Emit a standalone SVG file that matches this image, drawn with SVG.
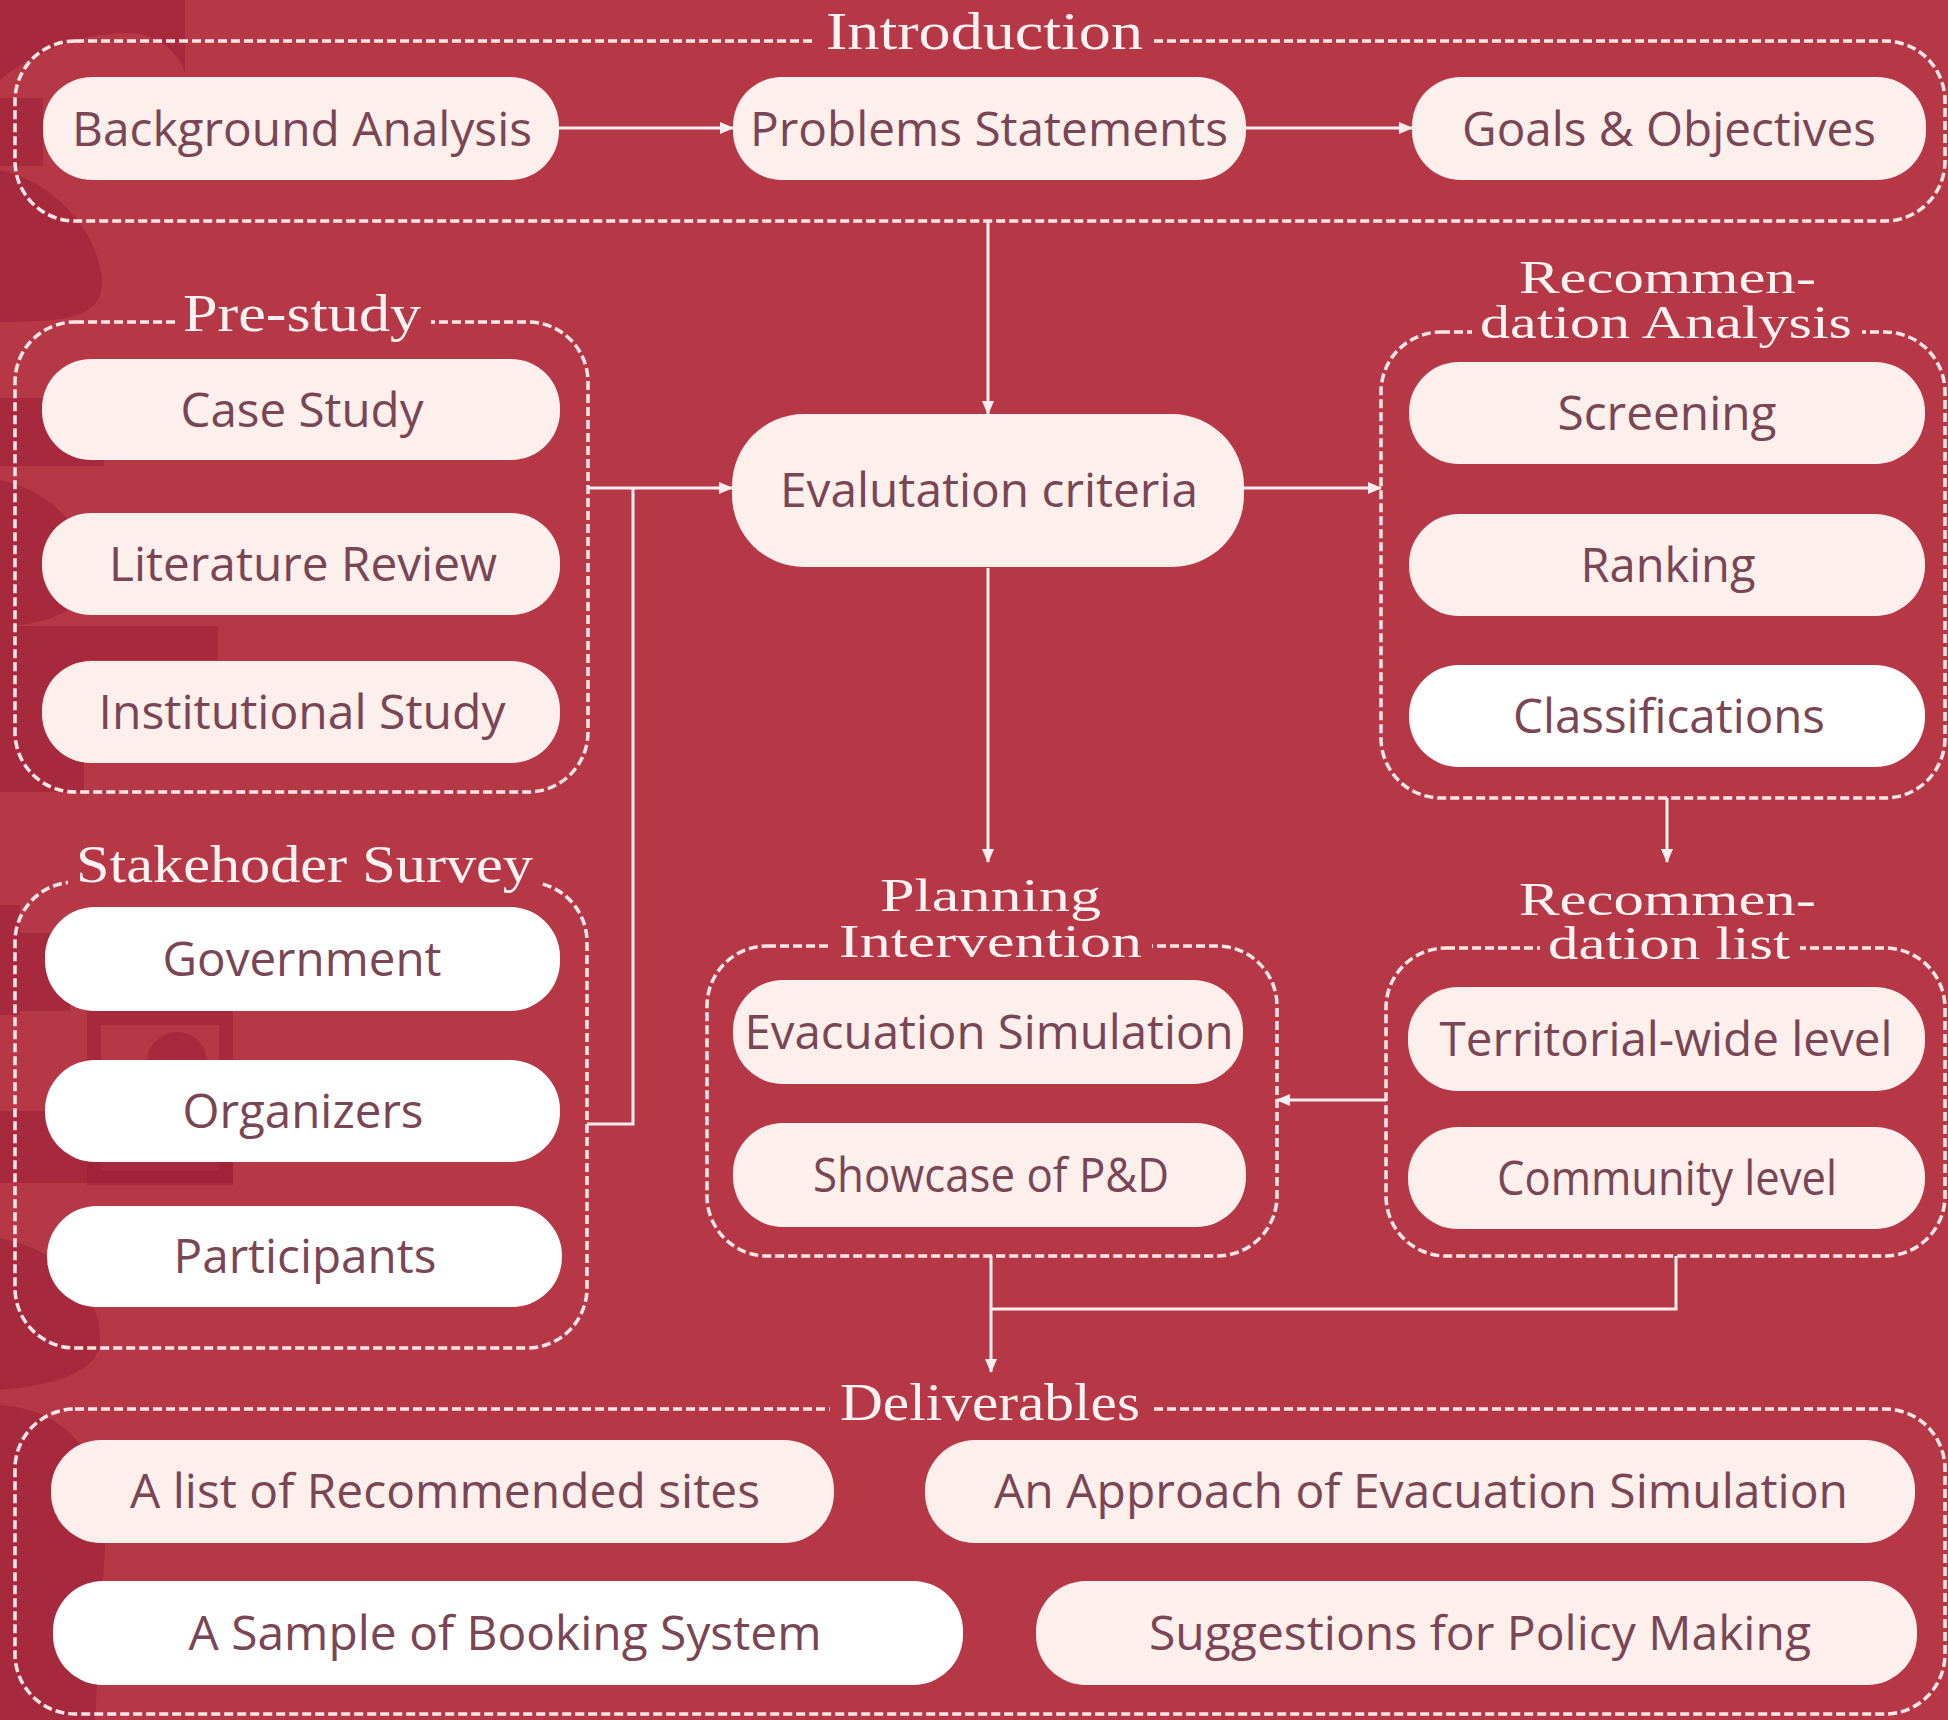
<svg xmlns="http://www.w3.org/2000/svg" width="1948" height="1720" viewBox="0 0 1948 1720">
<style>
.bg{fill:#b63847}
.deco{fill:#9d1f39;opacity:0.6}
.frame{fill:none;stroke:#fbe8e6;stroke-width:3.5;stroke-dasharray:9 4}
.pill{fill:#fcefec}
.pillw{fill:#ffffff}
.nt{font-family:"Open Sans","DejaVu Sans",sans-serif;font-size:47px;fill:#7a4655;text-anchor:middle}
.lb{font-family:"Liberation Serif","Times New Roman",serif;font-size:52px;fill:#fdf3f0}
.lb2{font-family:"Liberation Serif","Times New Roman",serif;font-size:47px;fill:#fdf3f0}
.cn{fill:none;stroke:#fbeeee;stroke-width:3}
</style>
<defs>
<marker id="ah" markerUnits="userSpaceOnUse" markerWidth="14" markerHeight="12" refX="13" refY="6" orient="auto">
<path d="M0,0 L14,6 L0,12 Z" fill="#fbeeee"/>
</marker>
<mask id="m-intro" maskUnits="userSpaceOnUse" x="0" y="0" width="1948" height="1720"><rect width="1948" height="1720" fill="#fff"/><rect x="816" y="20" width="337" height="40" fill="#000"/></mask>
<mask id="m-pre" maskUnits="userSpaceOnUse" x="0" y="0" width="1948" height="1720"><rect width="1948" height="1720" fill="#fff"/><rect x="175" y="300" width="256" height="40" fill="#000"/></mask>
<mask id="m-stake" maskUnits="userSpaceOnUse" x="0" y="0" width="1948" height="1720"><rect width="1948" height="1720" fill="#fff"/><rect x="68" y="855" width="474" height="38" fill="#000"/></mask>
<mask id="m-ra" maskUnits="userSpaceOnUse" x="0" y="0" width="1948" height="1720"><rect width="1948" height="1720" fill="#fff"/><rect x="1472" y="310" width="390" height="38" fill="#000"/></mask>
<mask id="m-pi" maskUnits="userSpaceOnUse" x="0" y="0" width="1948" height="1720"><rect width="1948" height="1720" fill="#fff"/><rect x="830" y="925" width="322" height="38" fill="#000"/></mask>
<mask id="m-rl" maskUnits="userSpaceOnUse" x="0" y="0" width="1948" height="1720"><rect width="1948" height="1720" fill="#fff"/><rect x="1540" y="927" width="260" height="38" fill="#000"/></mask>
<mask id="m-del" maskUnits="userSpaceOnUse" x="0" y="0" width="1948" height="1720"><rect width="1948" height="1720" fill="#fff"/><rect x="830" y="1388" width="320" height="40" fill="#000"/></mask>
</defs>

<rect class="bg" x="0" y="0" width="1948" height="1720"/>

<g id="decoration">
<path class="deco" d="M0,0 H185 V72 C172,42 150,32 120,33 C72,36 30,55 0,80 Z"/>
<rect class="deco" x="0" y="98" width="43" height="68"/>
<path class="deco" d="M0,170 C50,180 98,228 102,280 C104,320 60,322 0,322 Z"/>
<rect class="deco" x="0" y="398" width="104" height="68"/>
<path class="deco" d="M0,480 C50,490 90,530 88,580 C86,612 40,626 0,626 Z"/>
<rect class="deco" x="0" y="626" width="218" height="34"/>
<rect class="deco" x="0" y="660" width="84" height="132"/>
<rect class="deco" x="0" y="905" width="20" height="110"/>
<rect class="deco" x="20" y="933" width="50" height="78"/>
<rect x="94" y="1018" width="132" height="160" fill="none" stroke="#9d1f39" stroke-width="14" opacity="0.6"/>
<path class="deco" d="M147,1062 A30,30 0 0 1 207,1062 Z"/>
<rect class="deco" x="0" y="1111" width="233" height="72"/>
<path class="deco" d="M0,1238 C60,1250 100,1290 100,1340 C100,1370 60,1385 0,1390 Z"/>
<path class="deco" d="M0,1405 C70,1410 110,1460 105,1545 L95,1720 H0 Z"/>
</g>

<g id="connectors">
<line class="cn" x1="559" y1="128" x2="733" y2="128" marker-end="url(#ah)"/>
<line class="cn" x1="1246" y1="128" x2="1412" y2="128" marker-end="url(#ah)"/>
<line class="cn" x1="988" y1="221" x2="988" y2="414" marker-end="url(#ah)"/>
<line class="cn" x1="588" y1="488" x2="732" y2="488" marker-end="url(#ah)"/>
<polyline class="cn" points="587,1124 633,1124 633,488"/>
<line class="cn" x1="1243" y1="488" x2="1381" y2="488" marker-end="url(#ah)"/>
<line class="cn" x1="988" y1="568" x2="988" y2="862" marker-end="url(#ah)"/>
<line class="cn" x1="1667" y1="798" x2="1667" y2="862" marker-end="url(#ah)"/>
<line class="cn" x1="1386" y1="1100" x2="1277" y2="1100" marker-end="url(#ah)"/>
<line class="cn" x1="991" y1="1256" x2="991" y2="1372" marker-end="url(#ah)"/>
<polyline class="cn" points="1676,1256 1676,1309 991,1309"/>
</g>

<g id="introduction">
<rect class="frame" x="15" y="41" width="1930" height="180" rx="60" mask="url(#m-intro)"/>
<text class="lb" x="826" y="49" textLength="317" lengthAdjust="spacingAndGlyphs">Introduction</text>
</g>
<g id="pre-study">
<rect class="frame" x="15" y="322" width="573" height="470" rx="60" mask="url(#m-pre)"/>
<text class="lb" x="183" y="331" textLength="238" lengthAdjust="spacingAndGlyphs">Pre-study</text>
</g>
<g id="stakeholder-survey">
<rect class="frame" x="15" y="882" width="572" height="466" rx="60" mask="url(#m-stake)"/>
<text class="lb" x="76" y="882" textLength="457" lengthAdjust="spacingAndGlyphs">Stakehoder Survey</text>
</g>
<g id="recommendation-analysis">
<rect class="frame" x="1381" y="332" width="564" height="466" rx="60" mask="url(#m-ra)"/>
<text class="lb2" x="1519" y="293" textLength="297" lengthAdjust="spacingAndGlyphs">Recommen-</text>
<text class="lb2" x="1480" y="338" textLength="372" lengthAdjust="spacingAndGlyphs">dation Analysis</text>
</g>
<g id="planning-intervention">
<rect class="frame" x="707" y="946" width="570" height="310" rx="60" mask="url(#m-pi)"/>
<text class="lb2" x="880" y="911" textLength="221" lengthAdjust="spacingAndGlyphs">Planning</text>
<text class="lb2" x="839" y="957" textLength="303" lengthAdjust="spacingAndGlyphs">Intervention</text>
</g>
<g id="recommendation-list">
<rect class="frame" x="1386" y="948" width="559" height="308" rx="60" mask="url(#m-rl)"/>
<text class="lb2" x="1519" y="915" textLength="297" lengthAdjust="spacingAndGlyphs">Recommen-</text>
<text class="lb2" x="1548" y="959" textLength="242" lengthAdjust="spacingAndGlyphs">dation list</text>
</g>
<g id="deliverables">
<rect class="frame" x="15" y="1409" width="1930" height="305" rx="60" mask="url(#m-del)"/>
<text class="lb" x="840" y="1420" textLength="300" lengthAdjust="spacingAndGlyphs">Deliverables</text>
</g>

<g id="background-analysis"><rect class="pill" x="43" y="77" width="516" height="103" rx="49"/><text class="nt" x="302" y="146" textLength="460" lengthAdjust="spacingAndGlyphs">Background Analysis</text></g>
<g id="problems-statements"><rect class="pill" x="733" y="77" width="513" height="103" rx="49"/><text class="nt" x="989" y="146" textLength="478" lengthAdjust="spacingAndGlyphs">Problems Statements</text></g>
<g id="goals-objectives"><rect class="pill" x="1412" y="77" width="514" height="103" rx="49"/><text class="nt" x="1669" y="146" textLength="414" lengthAdjust="spacingAndGlyphs">Goals &amp; Objectives</text></g>

<g id="case-study"><rect class="pill" x="42" y="359" width="518" height="101" rx="49"/><text class="nt" x="302" y="427" textLength="243" lengthAdjust="spacingAndGlyphs">Case Study</text></g>
<g id="literature-review"><rect class="pill" x="42" y="513" width="518" height="102" rx="49"/><text class="nt" x="303" y="581" textLength="388" lengthAdjust="spacingAndGlyphs">Literature Review</text></g>
<g id="institutional-study"><rect class="pill" x="42" y="661" width="518" height="102" rx="49"/><text class="nt" x="302" y="729" textLength="407" lengthAdjust="spacingAndGlyphs">Institutional Study</text></g>

<g id="government"><rect class="pillw" x="45" y="907" width="515" height="104" rx="50"/><text class="nt" x="302" y="976" textLength="279" lengthAdjust="spacingAndGlyphs">Government</text></g>
<g id="organizers"><rect class="pillw" x="45" y="1060" width="515" height="102" rx="50"/><text class="nt" x="303" y="1128" textLength="241" lengthAdjust="spacingAndGlyphs">Organizers</text></g>
<g id="participants"><rect class="pillw" x="47" y="1206" width="515" height="101" rx="50"/><text class="nt" x="305" y="1273" textLength="263" lengthAdjust="spacingAndGlyphs">Participants</text></g>

<g id="evaluation-criteria"><rect class="pill" x="732" y="414" width="512" height="153" rx="72"/><text class="nt" x="989" y="507" textLength="418" lengthAdjust="spacingAndGlyphs">Evalutation criteria</text></g>

<g id="screening"><rect class="pill" x="1409" y="362" width="516" height="102" rx="50"/><text class="nt" x="1667" y="430" textLength="219" lengthAdjust="spacingAndGlyphs">Screening</text></g>
<g id="ranking"><rect class="pill" x="1409" y="514" width="516" height="102" rx="50"/><text class="nt" x="1668" y="582" textLength="175" lengthAdjust="spacingAndGlyphs">Ranking</text></g>
<g id="classifications"><rect class="pillw" x="1409" y="665" width="516" height="102" rx="50"/><text class="nt" x="1669" y="733" textLength="312" lengthAdjust="spacingAndGlyphs">Classifications</text></g>

<g id="evacuation-simulation"><rect class="pill" x="733" y="980" width="510" height="104" rx="50"/><text class="nt" x="989" y="1049" textLength="489" lengthAdjust="spacingAndGlyphs">Evacuation Simulation</text></g>
<g id="showcase-pd"><rect class="pill" x="733" y="1123" width="513" height="104" rx="50"/><text class="nt" x="991" y="1192" textLength="356" lengthAdjust="spacingAndGlyphs">Showcase of P&amp;D</text></g>

<g id="territorial-wide-level"><rect class="pill" x="1408" y="987" width="517" height="104" rx="50"/><text class="nt" x="1666" y="1056" textLength="453" lengthAdjust="spacingAndGlyphs">Territorial-wide level</text></g>
<g id="community-level"><rect class="pill" x="1408" y="1127" width="517" height="102" rx="50"/><text class="nt" x="1667" y="1195" textLength="340" lengthAdjust="spacingAndGlyphs">Community level</text></g>

<g id="recommended-sites"><rect class="pill" x="51" y="1440" width="783" height="103" rx="50"/><text class="nt" x="445" y="1508" textLength="630" lengthAdjust="spacingAndGlyphs">A list of Recommended sites</text></g>
<g id="evacuation-approach"><rect class="pill" x="925" y="1440" width="990" height="103" rx="50"/><text class="nt" x="1421" y="1508" textLength="854" lengthAdjust="spacingAndGlyphs">An Approach of Evacuation Simulation</text></g>
<g id="booking-system"><rect class="pillw" x="53" y="1581" width="910" height="104" rx="50"/><text class="nt" x="505" y="1650" textLength="633" lengthAdjust="spacingAndGlyphs">A Sample of Booking System</text></g>
<g id="policy-suggestions"><rect class="pill" x="1036" y="1581" width="881" height="104" rx="50"/><text class="nt" x="1480" y="1650" textLength="662" lengthAdjust="spacingAndGlyphs">Suggestions for Policy Making</text></g>
</svg>
